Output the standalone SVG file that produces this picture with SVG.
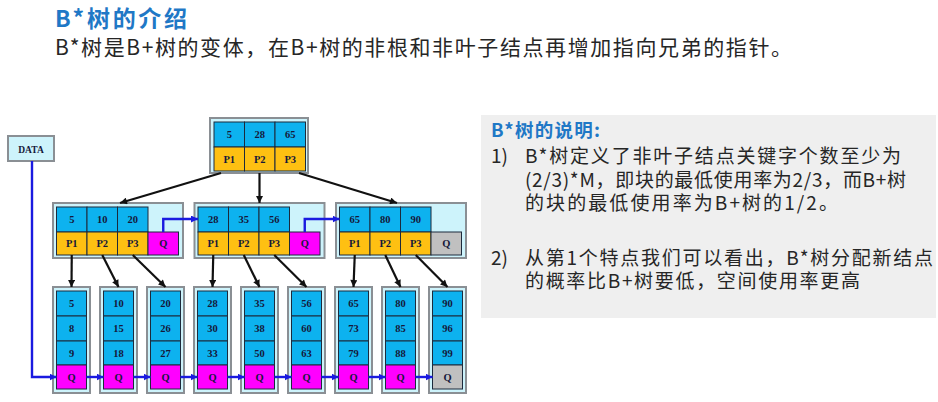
<svg xmlns="http://www.w3.org/2000/svg" width="938" height="402" viewBox="0 0 938 402">
<style>
.ob{fill:#cdf3fb;stroke:#8a8f94;stroke-width:2}
.k{fill:#0db2ef;stroke:#1c2a3c;stroke-width:1}
.p{fill:#fec012;stroke:#1c2a3c;stroke-width:1}
.q{fill:#ff00ff;stroke:#1c2a3c;stroke-width:1}
.g{fill:#c0c0c0;stroke:#1c2a3c;stroke-width:1}
.t{font-family:"Liberation Serif",serif;font-weight:bold;font-size:10.5px;fill:#15183a;text-anchor:middle}
.bk{stroke:#111;stroke-width:2.2;fill:none}
.bl{stroke:#1a1ae0;stroke-width:2.4;fill:none}
.cn{font-family:"Noto Sans CJK SC",sans-serif;fill:#262626;font-size:19px}
.hd{font-family:"Noto Sans CJK SC",sans-serif;fill:#1f78c6;font-weight:bold}
</style>
<defs>
<marker id="ak" viewBox="0 0 10 10" refX="10" refY="5" markerWidth="8" markerHeight="7" markerUnits="userSpaceOnUse" orient="auto"><path d="M0,0 L10,5 L0,10 z" fill="#111"/></marker>
<marker id="ab" viewBox="0 0 10 10" refX="10" refY="5" markerWidth="7" markerHeight="7" markerUnits="userSpaceOnUse" orient="auto"><path d="M0,0 L10,5 L0,10 z" fill="#1a1ae0"/></marker>
</defs>
<rect width="938" height="402" fill="#ffffff"/>

<g id="title">
<text x="55" y="27" class="hd" style="font-size:23px" textLength="132" lengthAdjust="spacing">B*树的介绍</text>
<text x="55" y="55" class="cn" style="font-size:21px" textLength="737" lengthAdjust="spacing">B*树是B+树的变体，在B+树的非根和非叶子结点再增加指向兄弟的指针。</text>
</g>

<g id="panel">
<rect x="481" y="115" width="455" height="203" fill="#efefef"/>
<text x="491" y="137" class="hd" style="font-size:18.5px" textLength="109" lengthAdjust="spacing">B*树的说明:</text>
<text x="491" y="163" class="cn">1)</text>
<text x="525" y="163" class="cn" textLength="376" lengthAdjust="spacing">B*树定义了非叶子结点关键字个数至少为</text>
<text x="525" y="187" class="cn" textLength="381" lengthAdjust="spacing">(2/3)*M，即块的最低使用率为2/3，而B+树</text>
<text x="525" y="210" class="cn" textLength="313" lengthAdjust="spacing">的块的最低使用率为B+树的1/2。</text>
<text x="491" y="265" class="cn">2)</text>
<text x="525" y="265" class="cn" textLength="408" lengthAdjust="spacing">从第1个特点我们可以看出，B*树分配新结点</text>
<text x="525" y="288" class="cn" textLength="335" lengthAdjust="spacing">的概率比B+树要低，空间使用率更高</text>
</g>

<g id="data" transform="translate(8,136)">
<rect x="0" y="0" width="46" height="25" class="ob"/>
<text x="23" y="16.5" class="t" style="font-size:9.5px">DATA</text>
</g>

<g id="root" transform="translate(210,118)">
<rect x="0" y="0" width="98" height="55" class="ob"/>
<rect x="4" y="4" width="30.5" height="25" class="k"/><rect x="34.5" y="4" width="30.5" height="25" class="k"/><rect x="65" y="4" width="30.5" height="25" class="k"/>
<rect x="4" y="29" width="30.5" height="24" class="p"/><rect x="34.5" y="29" width="30.5" height="24" class="p"/><rect x="65" y="29" width="30.5" height="24" class="p"/>
<text x="19.25" y="20" class="t">5</text><text x="49.75" y="20" class="t">28</text><text x="80.25" y="20" class="t">65</text>
<text x="19.25" y="44.5" class="t">P1</text><text x="49.75" y="44.5" class="t">P2</text><text x="80.25" y="44.5" class="t">P3</text>
</g>

<g id="n1" transform="translate(53,203)">
<rect x="0" y="0" width="130" height="55" class="ob"/>
<rect x="3.5" y="4" width="30.5" height="25" class="k"/><rect x="34" y="4" width="30.5" height="25" class="k"/><rect x="64.5" y="4" width="30.5" height="25" class="k"/>
<rect x="3.5" y="29" width="30.5" height="23" class="p"/><rect x="34" y="29" width="30.5" height="23" class="p"/><rect x="64.5" y="29" width="30.5" height="23" class="p"/><rect x="95" y="29" width="30.5" height="23" class="q"/>
<text x="18.75" y="20" class="t">5</text><text x="49.25" y="20" class="t">10</text><text x="79.75" y="20" class="t">20</text>
<text x="18.75" y="44" class="t">P1</text><text x="49.25" y="44" class="t">P2</text><text x="79.75" y="44" class="t">P3</text><text x="110.25" y="44" class="t">Q</text>
</g>

<g id="n2" transform="translate(194.5,203)">
<rect x="0" y="0" width="130" height="55" class="ob"/>
<rect x="3.5" y="4" width="30.5" height="25" class="k"/><rect x="34" y="4" width="30.5" height="25" class="k"/><rect x="64.5" y="4" width="30.5" height="25" class="k"/>
<rect x="3.5" y="29" width="30.5" height="23" class="p"/><rect x="34" y="29" width="30.5" height="23" class="p"/><rect x="64.5" y="29" width="30.5" height="23" class="p"/><rect x="95" y="29" width="30.5" height="23" class="q"/>
<text x="18.75" y="20" class="t">28</text><text x="49.25" y="20" class="t">35</text><text x="79.75" y="20" class="t">56</text>
<text x="18.75" y="44" class="t">P1</text><text x="49.25" y="44" class="t">P2</text><text x="79.75" y="44" class="t">P3</text><text x="110.25" y="44" class="t">Q</text>
</g>

<g id="n3" transform="translate(336,203)">
<rect x="0" y="0" width="130" height="55" class="ob"/>
<rect x="3.5" y="4" width="30.5" height="25" class="k"/><rect x="34" y="4" width="30.5" height="25" class="k"/><rect x="64.5" y="4" width="30.5" height="25" class="k"/>
<rect x="3.5" y="29" width="30.5" height="23" class="p"/><rect x="34" y="29" width="30.5" height="23" class="p"/><rect x="64.5" y="29" width="30.5" height="23" class="p"/><rect x="95" y="29" width="30.5" height="23" class="g"/>
<text x="18.75" y="20" class="t">65</text><text x="49.25" y="20" class="t">80</text><text x="79.75" y="20" class="t">90</text>
<text x="18.75" y="44" class="t">P1</text><text x="49.25" y="44" class="t">P2</text><text x="79.75" y="44" class="t">P3</text><text x="110.25" y="44" class="t">Q</text>
</g>

<g id="leaf1" transform="translate(53,287)">
<rect x="0" y="0" width="37" height="106" class="ob"/>
<rect x="3.5" y="4" width="30" height="25" class="k"/><rect x="3.5" y="29" width="30" height="25" class="k"/><rect x="3.5" y="54" width="30" height="24" class="k"/><rect x="3.5" y="78" width="30" height="24" class="q"/>
<text x="18.5" y="20" class="t">5</text><text x="18.5" y="45" class="t">8</text><text x="18.5" y="69.5" class="t">9</text><text x="18.5" y="93.5" class="t">Q</text>
</g>
<g id="leaf2" transform="translate(100,287)">
<rect x="0" y="0" width="37" height="106" class="ob"/>
<rect x="3.5" y="4" width="30" height="25" class="k"/><rect x="3.5" y="29" width="30" height="25" class="k"/><rect x="3.5" y="54" width="30" height="24" class="k"/><rect x="3.5" y="78" width="30" height="24" class="q"/>
<text x="18.5" y="20" class="t">10</text><text x="18.5" y="45" class="t">15</text><text x="18.5" y="69.5" class="t">18</text><text x="18.5" y="93.5" class="t">Q</text>
</g>
<g id="leaf3" transform="translate(147,287)">
<rect x="0" y="0" width="37" height="106" class="ob"/>
<rect x="3.5" y="4" width="30" height="25" class="k"/><rect x="3.5" y="29" width="30" height="25" class="k"/><rect x="3.5" y="54" width="30" height="24" class="k"/><rect x="3.5" y="78" width="30" height="24" class="q"/>
<text x="18.5" y="20" class="t">20</text><text x="18.5" y="45" class="t">26</text><text x="18.5" y="69.5" class="t">27</text><text x="18.5" y="93.5" class="t">Q</text>
</g>
<g id="leaf4" transform="translate(194,287)">
<rect x="0" y="0" width="37" height="106" class="ob"/>
<rect x="3.5" y="4" width="30" height="25" class="k"/><rect x="3.5" y="29" width="30" height="25" class="k"/><rect x="3.5" y="54" width="30" height="24" class="k"/><rect x="3.5" y="78" width="30" height="24" class="q"/>
<text x="18.5" y="20" class="t">28</text><text x="18.5" y="45" class="t">30</text><text x="18.5" y="69.5" class="t">33</text><text x="18.5" y="93.5" class="t">Q</text>
</g>
<g id="leaf5" transform="translate(241,287)">
<rect x="0" y="0" width="37" height="106" class="ob"/>
<rect x="3.5" y="4" width="30" height="25" class="k"/><rect x="3.5" y="29" width="30" height="25" class="k"/><rect x="3.5" y="54" width="30" height="24" class="k"/><rect x="3.5" y="78" width="30" height="24" class="q"/>
<text x="18.5" y="20" class="t">35</text><text x="18.5" y="45" class="t">38</text><text x="18.5" y="69.5" class="t">50</text><text x="18.5" y="93.5" class="t">Q</text>
</g>
<g id="leaf6" transform="translate(288,287)">
<rect x="0" y="0" width="37" height="106" class="ob"/>
<rect x="3.5" y="4" width="30" height="25" class="k"/><rect x="3.5" y="29" width="30" height="25" class="k"/><rect x="3.5" y="54" width="30" height="24" class="k"/><rect x="3.5" y="78" width="30" height="24" class="q"/>
<text x="18.5" y="20" class="t">56</text><text x="18.5" y="45" class="t">60</text><text x="18.5" y="69.5" class="t">63</text><text x="18.5" y="93.5" class="t">Q</text>
</g>
<g id="leaf7" transform="translate(335,287)">
<rect x="0" y="0" width="37" height="106" class="ob"/>
<rect x="3.5" y="4" width="30" height="25" class="k"/><rect x="3.5" y="29" width="30" height="25" class="k"/><rect x="3.5" y="54" width="30" height="24" class="k"/><rect x="3.5" y="78" width="30" height="24" class="q"/>
<text x="18.5" y="20" class="t">65</text><text x="18.5" y="45" class="t">73</text><text x="18.5" y="69.5" class="t">79</text><text x="18.5" y="93.5" class="t">Q</text>
</g>
<g id="leaf8" transform="translate(382,287)">
<rect x="0" y="0" width="37" height="106" class="ob"/>
<rect x="3.5" y="4" width="30" height="25" class="k"/><rect x="3.5" y="29" width="30" height="25" class="k"/><rect x="3.5" y="54" width="30" height="24" class="k"/><rect x="3.5" y="78" width="30" height="24" class="q"/>
<text x="18.5" y="20" class="t">80</text><text x="18.5" y="45" class="t">85</text><text x="18.5" y="69.5" class="t">88</text><text x="18.5" y="93.5" class="t">Q</text>
</g>
<g id="leaf9" transform="translate(429,287)">
<rect x="0" y="0" width="37" height="106" class="ob"/>
<rect x="3.5" y="4" width="30" height="25" class="k"/><rect x="3.5" y="29" width="30" height="25" class="k"/><rect x="3.5" y="54" width="30" height="24" class="k"/><rect x="3.5" y="78" width="30" height="24" class="g"/>
<text x="18.5" y="20" class="t">90</text><text x="18.5" y="45" class="t">96</text><text x="18.5" y="69.5" class="t">99</text><text x="18.5" y="93.5" class="t">Q</text>
</g>

<g id="connectors">
<line x1="221" y1="173" x2="120" y2="203" class="bk" marker-end="url(#ak)"/>
<line x1="259.5" y1="173" x2="259.5" y2="203" class="bk" marker-end="url(#ak)"/>
<line x1="299" y1="173" x2="397" y2="203" class="bk" marker-end="url(#ak)"/>

<line x1="71.75" y1="255" x2="71.5" y2="287" class="bk" marker-end="url(#ak)"/>
<line x1="102.25" y1="255" x2="118.5" y2="287" class="bk" marker-end="url(#ak)"/>
<line x1="132.75" y1="255" x2="165.5" y2="287" class="bk" marker-end="url(#ak)"/>
<line x1="213.25" y1="255" x2="212.5" y2="287" class="bk" marker-end="url(#ak)"/>
<line x1="243.75" y1="255" x2="259.5" y2="287" class="bk" marker-end="url(#ak)"/>
<line x1="274.25" y1="255" x2="306.5" y2="287" class="bk" marker-end="url(#ak)"/>
<line x1="354.75" y1="255" x2="353.5" y2="287" class="bk" marker-end="url(#ak)"/>
<line x1="385.25" y1="255" x2="400.5" y2="287" class="bk" marker-end="url(#ak)"/>
<line x1="415.75" y1="255" x2="447.5" y2="287" class="bk" marker-end="url(#ak)"/>

<path d="M163.25,232 V219 H198" class="bl" marker-end="url(#ab)"/>
<path d="M304.75,232 V219 H339.5" class="bl" marker-end="url(#ab)"/>

<path d="M32,161 V377 H56.5" class="bl" marker-end="url(#ab)"/>
<line x1="86.5" y1="377" x2="103.5" y2="377" class="bl" marker-end="url(#ab)"/>
<line x1="133.5" y1="377" x2="150.5" y2="377" class="bl" marker-end="url(#ab)"/>
<line x1="180.5" y1="377" x2="197.5" y2="377" class="bl" marker-end="url(#ab)"/>
<line x1="227.5" y1="377" x2="244.5" y2="377" class="bl" marker-end="url(#ab)"/>
<line x1="274.5" y1="377" x2="291.5" y2="377" class="bl" marker-end="url(#ab)"/>
<line x1="321.5" y1="377" x2="338.5" y2="377" class="bl" marker-end="url(#ab)"/>
<line x1="368.5" y1="377" x2="385.5" y2="377" class="bl" marker-end="url(#ab)"/>
<line x1="415.5" y1="377" x2="432.5" y2="377" class="bl" marker-end="url(#ab)"/>
</g>
</svg>
